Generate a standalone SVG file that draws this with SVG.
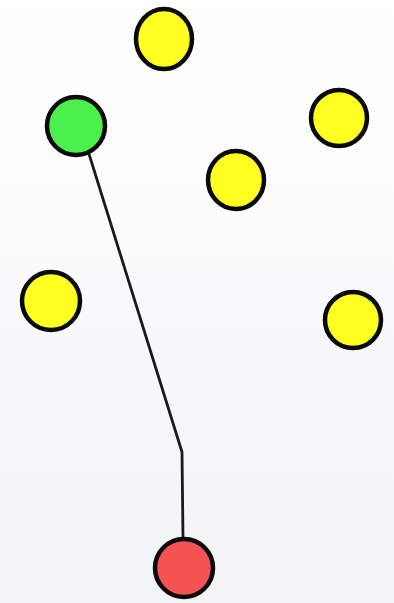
<svg xmlns="http://www.w3.org/2000/svg" width="394" height="603" viewBox="0 0 394 603">
<defs>
<linearGradient id="bg" x1="0" y1="0" x2="0" y2="1">
<stop offset="0" stop-color="#ffffff"/>
<stop offset="0.3" stop-color="#fcfcfd"/>
<stop offset="1" stop-color="#f1f3f6"/>
</linearGradient>
</defs>
<style>
.n{stroke:#0a0a0a;stroke-width:4.5}
.y{fill:#ffff22}
.g{fill:#4cf04c}
.r{fill:#f55252}
.e{fill:none;stroke:#1a1a1a;stroke-width:2.8;stroke-linejoin:round}
</style>
<rect width="394" height="603" fill="url(#bg)"/>
<g id="edges">
<polyline class="e" points="89,154 182,452 183,538"/>
</g>
<g id="n1"><ellipse class="n y" cx="164" cy="39" rx="28" ry="30"/></g>
<g id="n2"><circle class="n g" cx="76" cy="126" r="29"/></g>
<g id="n3"><circle class="n y" cx="339" cy="118" r="28"/></g>
<g id="n4"><ellipse class="n y" cx="236" cy="180" rx="28" ry="29"/></g>
<g id="n5"><circle class="n y" cx="51" cy="301" r="29"/></g>
<g id="n6"><circle class="n y" cx="353" cy="320" r="28"/></g>
<g id="n7"><circle class="n r" cx="184" cy="568" r="29"/></g>
</svg>
